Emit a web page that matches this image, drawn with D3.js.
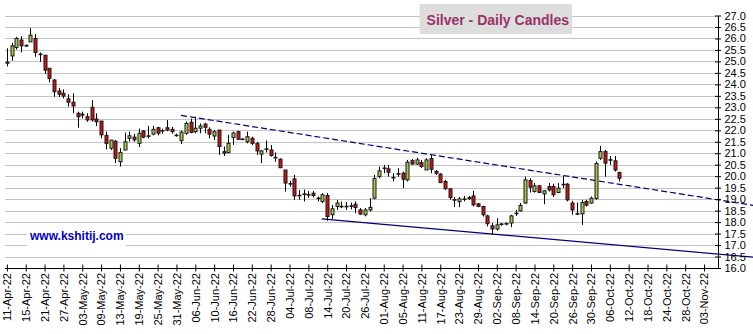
<!DOCTYPE html>
<html>
<head>
<meta charset="utf-8">
<title>Silver - Daily Candles</title>
<script src="https://cdn.jsdelivr.net/npm/d3@7"></script>
<style>
  html, body { margin: 0; padding: 0; background: #ffffff; }
  svg { display: block; font-family: "Liberation Sans", Arial, sans-serif; }
</style>
</head>
<body>
<script>
// Daily OHLC for silver, one entry per trading session starting 11-Apr-22
const open = [
  24.92, 25.24, 25.61, 25.93, 25.70, 25.85, 26.00, 25.32, 25.27, 24.70,
  24.19, 23.71, 23.61, 23.37, 23.22, 22.74, 22.70, 22.59, 23.00, 22.49,
  22.40, 21.77, 21.22, 21.52, 20.63, 21.14, 21.65, 21.70, 21.43, 21.97,
  21.74, 21.83, 22.11, 21.97, 22.11, 22.04, 21.79, 21.55, 21.87, 22.35,
  21.94, 22.09, 22.27, 22.04, 21.75, 22.01, 21.07, 21.03, 21.68, 21.94,
  21.62, 21.50, 21.65, 21.43, 20.96, 21.17, 21.14, 20.82, 20.74, 20.27,
  19.68, 19.88, 19.17, 19.21, 19.18, 19.26, 19.05, 18.90, 19.16, 18.32,
  18.68, 18.69, 18.67, 18.71, 18.78, 18.53, 18.32, 18.53, 19.04, 19.98,
  20.34, 20.32, 19.95, 20.09, 20.13, 19.84, 20.68, 20.53, 20.59, 20.27,
  20.77, 20.21, 20.09, 19.77, 19.45, 18.98, 18.89, 18.99, 19.07, 19.14,
  18.80, 18.68, 18.27, 17.84, 17.70, 17.90, 17.92, 17.96, 18.37, 18.49,
  18.83, 19.81, 19.33, 19.58, 19.23, 19.55, 19.55, 19.29, 19.63, 19.65,
  18.83, 18.37, 18.36, 18.90, 18.83, 19.03, 20.78, 21.07, 20.72, 20.67,
  20.16
];
const high = [
  25.57, 25.81, 26.07, 26.10, 25.74, 26.45, 26.19, 25.39, 25.27, 24.70,
  24.23, 23.85, 23.78, 23.57, 23.61, 22.81, 22.81, 22.74, 23.32, 22.74,
  22.40, 21.94, 21.58, 21.58, 21.22, 21.90, 21.94, 21.84, 22.07, 22.01,
  22.19, 22.19, 22.15, 22.07, 22.45, 22.15, 21.85, 21.98, 22.37, 22.51,
  22.59, 22.30, 22.33, 22.13, 22.01, 22.01, 21.29, 21.80, 21.94, 21.98,
  21.65, 21.94, 21.72, 21.50, 21.14, 21.55, 21.36, 21.03, 20.78, 20.27,
  19.80, 20.06, 19.40, 19.42, 19.35, 19.35, 19.11, 19.26, 19.26, 18.75,
  18.97, 18.90, 18.87, 18.85, 18.90, 18.61, 18.61, 19.04, 20.06, 20.42,
  20.49, 20.49, 20.13, 20.35, 20.20, 20.71, 20.75, 20.81, 20.71, 20.78,
  20.93, 20.27, 20.13, 19.84, 19.48, 19.09, 19.09, 19.14, 19.14, 19.36,
  18.83, 18.71, 18.32, 17.96, 18.17, 17.96, 17.98, 18.32, 18.53, 18.83,
  19.98, 19.91, 19.70, 19.62, 19.40, 19.70, 19.67, 19.70, 20.01, 19.70,
  18.93, 18.85, 18.97, 18.97, 19.11, 20.64, 21.32, 21.14, 20.88, 20.88,
  20.20
];
const low = [
  24.78, 25.03, 25.52, 25.40, 25.63, 25.85, 25.20, 24.98, 24.45, 24.09,
  23.46, 23.45, 23.39, 23.03, 22.74, 22.11, 22.52, 22.37, 22.38, 22.19,
  21.65, 21.17, 21.14, 20.57, 20.42, 21.14, 21.50, 21.50, 21.27, 21.65,
  21.65, 21.78, 21.78, 21.85, 21.96, 21.85, 21.72, 21.40, 21.80, 21.87,
  21.87, 21.87, 21.87, 21.65, 21.58, 20.93, 20.88, 21.00, 21.36, 21.58,
  21.57, 21.43, 21.36, 20.93, 20.57, 21.03, 20.85, 20.63, 20.35, 19.33,
  19.55, 18.97, 18.97, 18.90, 19.05, 19.07, 18.90, 18.83, 18.06, 18.14,
  18.53, 18.61, 18.53, 18.55, 18.39, 18.32, 18.25, 18.46, 18.99, 19.91,
  20.13, 19.98, 19.77, 19.98, 19.48, 19.77, 20.49, 20.49, 20.35, 20.27,
  20.13, 20.06, 19.70, 19.40, 18.97, 18.65, 18.65, 18.90, 18.97, 18.68,
  18.65, 18.24, 17.81, 17.45, 17.63, 17.84, 17.86, 17.78, 18.27, 18.46,
  18.80, 19.29, 19.29, 19.26, 18.78, 19.33, 19.09, 19.26, 19.48, 18.90,
  18.32, 18.32, 17.88, 18.68, 18.80, 18.97, 20.71, 19.98, 20.49, 20.20,
  19.77
];
const close = [
  24.97, 25.68, 26.00, 25.68, 25.67, 26.14, 25.39, 25.30, 24.62, 24.26,
  23.68, 23.57, 23.49, 23.22, 23.06, 22.59, 22.66, 22.45, 22.45, 22.37,
  21.80, 21.43, 21.57, 20.78, 21.03, 21.50, 21.76, 21.58, 21.87, 21.70,
  21.76, 22.04, 21.87, 21.99, 22.01, 21.94, 21.77, 21.92, 22.30, 21.91,
  22.09, 22.19, 22.13, 21.83, 21.94, 21.29, 21.00, 21.43, 21.88, 21.61,
  21.60, 21.72, 21.43, 21.10, 21.10, 21.19, 20.90, 20.80, 20.37, 19.70,
  19.66, 19.14, 19.15, 19.23, 19.20, 19.16, 19.03, 19.19, 18.24, 18.58,
  18.83, 18.67, 18.69, 18.69, 18.63, 18.35, 18.53, 18.64, 19.90, 20.23,
  20.36, 20.17, 19.93, 20.11, 19.87, 20.61, 20.53, 20.71, 20.42, 20.71,
  20.30, 20.13, 19.72, 19.45, 19.07, 18.96, 19.01, 19.01, 19.02, 18.75,
  18.68, 18.32, 17.93, 17.70, 17.88, 17.92, 17.94, 18.27, 18.39, 18.72,
  19.84, 19.52, 19.58, 19.29, 19.36, 19.40, 19.19, 19.48, 19.65, 18.97,
  18.53, 18.35, 18.85, 18.74, 19.04, 20.55, 21.07, 20.57, 20.70, 20.27,
  19.91
];

// Date labels on the session axis, one every four sessions
const tickLabels = [
  "11-Apr-22", "15-Apr-22", "21-Apr-22", "27-Apr-22", "03-May-22", "09-May-22",
  "13-May-22", "19-May-22", "25-May-22", "31-May-22", "06-Jun-22", "10-Jun-22",
  "16-Jun-22", "22-Jun-22", "28-Jun-22", "04-Jul-22", "08-Jul-22", "14-Jul-22",
  "20-Jul-22", "26-Jul-22", "01-Aug-22", "05-Aug-22", "11-Aug-22", "17-Aug-22",
  "23-Aug-22", "29-Aug-22", "02-Sep-22", "08-Sep-22", "14-Sep-22", "20-Sep-22",
  "26-Sep-22", "30-Sep-22", "06-Oct-22", "12-Oct-22", "18-Oct-22", "24-Oct-22",
  "28-Oct-22", "03-Nov-22"
];
const TICK_EVERY = 4;

// Price axis labels
const priceTicks = [
  16.0, 16.5, 17.0, 17.5, 18.0, 18.5, 19.0, 19.5, 20.0, 20.5, 21.0, 21.5,
  22.0, 22.5, 23.0, 23.5, 24.0, 24.5, 25.0, 25.5, 26.0, 26.5, 27.0
];

// Trend lines as [session, price] anchor pairs
const resistanceLine = [[36.96, 22.65], [158.4, 18.73]];
const supportLine = [[66.8, 18.14], [158.4, 16.47]];

const W = 753, H = 334;
const svg = d3.select("body").append("svg")
  .attr("width", W).attr("height", H)
  .attr("viewBox", `0 0 ${W} ${H}`);

const x = d3.scaleLinear().domain([-0.4, 150.96]).range([5, 718]);
const y = d3.scaleLinear().domain([16, 27]).range([268, 15.5]);

// Horizontal grid
svg.append("g")
  .selectAll("line")
  .data(priceTicks.filter(v => v > 16))
  .join("line")
  .attr("x1", 5).attr("x2", 718)
  .attr("y1", d => Math.round(y(d)) + 0.5)
  .attr("y2", d => Math.round(y(d)) + 0.5)
  .attr("stroke", "#c4c4c4")
  .attr("stroke-width", 1);

// Site caption on a white patch
const wm = svg.append("g");
const wmText = wm.append("text")
  .attr("x", 30).attr("y", 240)
  .attr("font-size", 12).attr("font-weight", "bold")
  .attr("fill", "#0000cc")
  .text("www.kshitij.com");
const wb = wmText.node().getBBox();
wm.insert("rect", "text")
  .attr("x", wb.x - 2).attr("y", 225)
  .attr("width", wb.width + 4).attr("height", 22)
  .attr("fill", "#ffffff");

// Trend lines
const line = d3.line().x(d => x(d[0])).y(d => y(d[1]));
svg.append("path")
  .attr("d", line(resistanceLine))
  .attr("fill", "none")
  .attr("stroke", "#00007a")
  .attr("stroke-width", 1.2)
  .attr("stroke-dasharray", "6,3");
svg.append("path")
  .attr("d", line(supportLine))
  .attr("fill", "none")
  .attr("stroke", "#00007a")
  .attr("stroke-width", 1.2);

// Candles
const candles = open.map((o, i) => ({ i, o, h: high[i], l: low[i], c: close[i] }));
const cg = svg.append("g")
  .selectAll("g")
  .data(candles)
  .join("g");

const cx = d => Math.round(x(d.i)) + 0.5;
cg.append("line")
  .attr("x1", cx).attr("x2", cx)
  .attr("y1", d => y(d.h)).attr("y2", d => y(d.l))
  .attr("stroke", "#000")
  .attr("stroke-width", 1);
cg.append("rect")
  .attr("x", d => cx(d) - 1.5)
  .attr("width", 3)
  .attr("y", d => y(Math.max(d.o, d.c)))
  .attr("height", d => Math.max(0.6, Math.abs(y(d.o) - y(d.c))))
  .attr("fill", d => d.c > d.o ? "#a3c94a" : "#cc1111")
  .attr("stroke", "#1a1a1a")
  .attr("stroke-width", 1);

// Session axis
const xAxis = d3.axisBottom(x)
  .tickValues(tickLabels.map((_, k) => k * TICK_EVERY))
  .tickFormat((d, k) => tickLabels[k])
  .tickSizeOuter(0);
const gx = svg.append("g")
  .attr("transform", "translate(0,268)")
  .call(xAxis);
gx.select(".domain").attr("stroke", "#000").attr("d", "M5,0.5H718.5");
gx.selectAll(".tick line").attr("y1", -3.5).attr("y2", 3.5).attr("stroke", "#000");
gx.selectAll(".tick text")
  .attr("transform", "rotate(-90)")
  .attr("text-anchor", "end")
  .attr("x", -5).attr("y", 0).attr("dy", "0.35em")
  .attr("font-size", 11)
  .attr("font-family", "Liberation Sans, Arial, sans-serif")
  .attr("fill", "#000");

// Price axis
const yAxis = d3.axisRight(y)
  .tickValues(priceTicks)
  .tickFormat(d3.format(".1f"))
  .tickSizeOuter(0);
const gy = svg.append("g")
  .attr("transform", "translate(718,0)")
  .call(yAxis);
gy.select(".domain").attr("stroke", "#000");
gy.selectAll(".tick line").attr("x1", -3).attr("x2", 3).attr("stroke", "#000");
gy.selectAll(".tick text")
  .attr("x", 6.5)
  .attr("font-size", 11)
  .attr("font-family", "Liberation Sans, Arial, sans-serif")
  .attr("fill", "#000");

// Title badge
const tg = svg.append("g");
const tt = tg.append("text")
  .attr("x", 569).attr("y", 25)
  .attr("text-anchor", "end")
  .attr("font-size", 14).attr("font-weight", "bold")
  .attr("fill", "#993366")
  .text("Silver - Daily Candles");
const tb = tt.node().getBBox();
tg.insert("rect", "text")
  .attr("x", tb.x - 7).attr("y", 4)
  .attr("width", 572 - (tb.x - 7)).attr("height", 30)
  .attr("fill", "#dddddd");
</script>
</body>
</html>
